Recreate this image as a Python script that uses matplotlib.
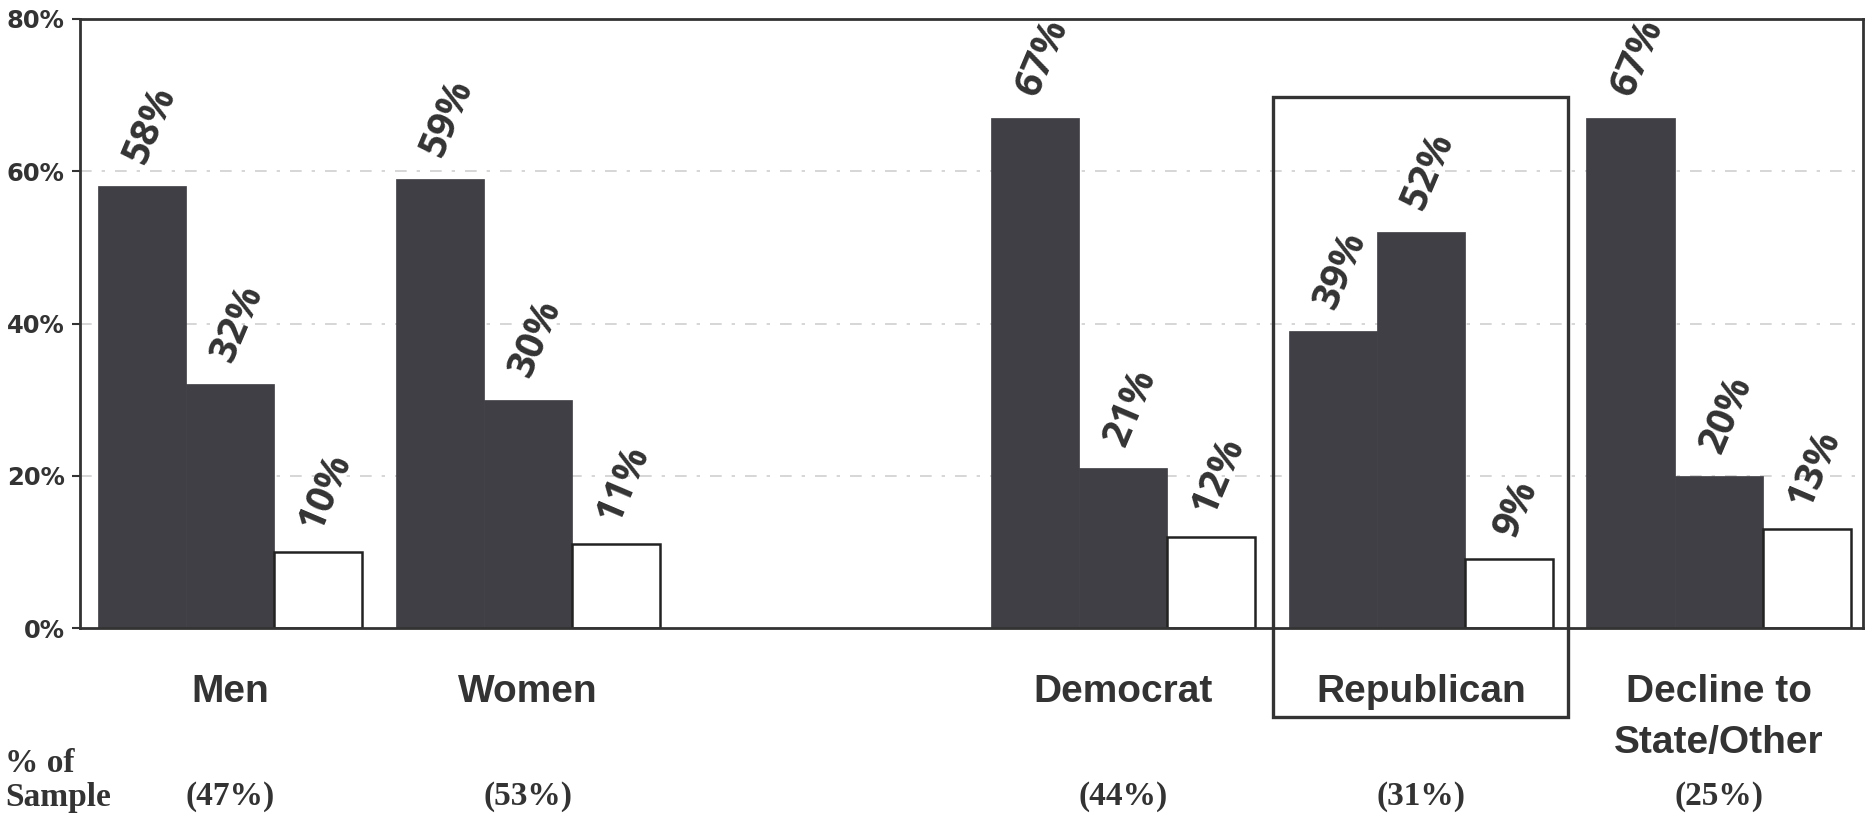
import matplotlib
matplotlib.use("Agg")
import matplotlib.pyplot as plt
from matplotlib.patches import Rectangle

# Data
groups = ["Men", "Women", "", "Democrat", "Republican", "Decline to\nState/Other"]
series_a = [58, 59, None, 67, 39, 67]
series_b = [32, 30, None, 21, 52, 20]
series_c = [10, 11, None, 12, 9, 13]
sample_share = ["(47%)", "(53%)", "", "(44%)", "(31%)", "(25%)"]
y_ticks = [0, 20, 40, 60, 80]
y_tick_labels = ["0%", "20%", "40%", "60%", "80%"]

DARK = "#3f3f45"
TEXT = "#333333"
W = 0.296
PX = 80 / 609  # data units per pixel on the y axis

fig = plt.figure(figsize=(18.68, 8.19), dpi=100)
ax = fig.add_axes([80 / 1868, 1 - 628 / 819, 1783 / 1868, 609 / 819])
ax.set_xlim(-0.505, 5.485)
ax.set_ylim(0, 80)

for y in (20, 40, 60):
    ax.axhline(y, color="#cfcfcf", lw=1.2, ls=(0, (7, 6, 2, 6)), zorder=0)

label_font = dict(family=["Open Sans", "DejaVu Sans"], fontsize=28, fontweight="bold",
                  fontstyle="normal", color=TEXT, rotation=67, ha="center",
                  va="bottom", clip_on=False)

for i, (a, b, c) in enumerate(zip(series_a, series_b, series_c)):
    if a is None:
        continue
    xs = [i - W, i, i + W]
    vals = [a, b, c]
    ax.bar(xs[0], a, width=W, color=DARK, edgecolor=DARK, lw=0.5, zorder=2)
    ax.bar(xs[1], b, width=W, color=DARK, edgecolor=DARK, lw=0.5, zorder=2)
    ax.bar(xs[2], c, width=W, color="white", edgecolor="#222222", lw=1.8, zorder=2)
    for x, v in zip(xs, vals):
        ax.text(x + 0.025, v + 2.2, f"{v}%", **label_font)

serif = ["Liberation Serif", "DejaVu Serif"]

# Category labels beneath the axis
for i, g in enumerate(groups):
    if not g:
        continue
    for k, line in enumerate(g.split("\n")):
        ax.text(i, -9.7 - k * 51 * PX, line, ha="center", va="baseline", fontsize=28,
                fontweight="bold", family=["Liberation Sans", "DejaVu Sans"],
                color=TEXT, clip_on=False)
    ax.text(i, -23.2, sample_share[i], ha="center", va="baseline", fontsize=24,
            fontweight="bold", family=serif, color=TEXT, clip_on=False)

fig.text(5 / 1868, 1 - 772 / 819, "% of", ha="left", va="baseline", fontsize=24,
         fontweight="bold", family=serif, color=TEXT)
fig.text(5 / 1868, 1 - 806 / 819, "Sample", ha="left", va="baseline", fontsize=24,
         fontweight="bold", family=serif, color=TEXT)

# Highlight frame around the Republican group
box = Rectangle((3.503, -11.7), 0.99, 69.75 + 11.7, fill=False, lw=2.4,
                edgecolor="#333333", clip_on=False, zorder=5)
ax.add_patch(box)

ax.set_yticks(y_ticks)
ax.set_yticklabels(y_tick_labels, fontsize=17.5, fontweight="bold",
                   family=["DejaVu Sans"], color=TEXT)
ax.set_xticks([])
ax.tick_params(axis="y", direction="out", length=6, width=1.5, pad=5, color="#333333")
for s in ax.spines.values():
    s.set_color("#333333")
    s.set_linewidth(2)

fig.savefig("out.png", dpi=100, facecolor="white")
